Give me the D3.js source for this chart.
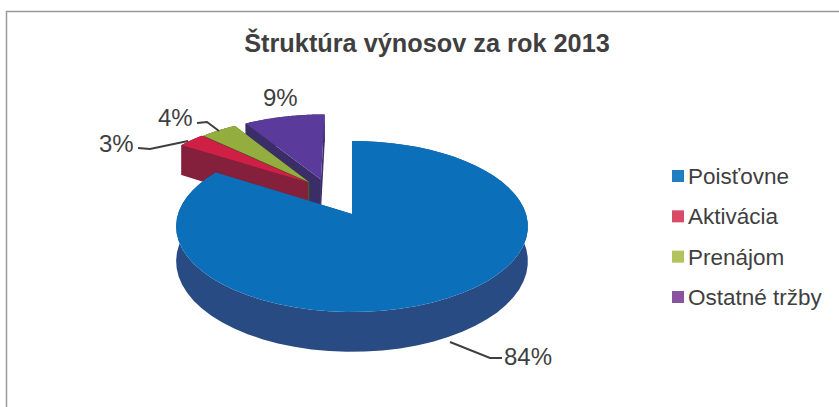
<!DOCTYPE html>
<html>
<head>
<meta charset="utf-8">
<script src="https://cdn.jsdelivr.net/npm/d3@7"></script>
<style>
  html, body { margin: 0; padding: 0; background: #fff; }
  text { font-family: "Liberation Sans", Arial, sans-serif; fill: #3f3f3f; }
</style>
</head>
<body>
<script>
const categories = ['Poisťovne', 'Aktivácia', 'Prenájom', 'Ostatné tržby'];
const values = [84, 3, 4, 9];
const labels = ['84%', '3%', '4%', '9%'];

const w = 839;
const h = 407;

const topColors = ['#0b70b9', '#cf1f45', '#93ae3f', '#5a3b9b'];
const sideColors = ['#274b82', '#84203c', '#3f5c2a', '#3a2d68'];
const legendColors = ['#1f7fc0', '#d84a68', '#b2c25c', '#8a53a0'];

// perspective of the disc plane, radius 1 = rim of the pie
const cx = 352, cy = 214;
const a = 83.7, b = 174, k = 0.146, depth = 34;
const project = (x, y, z) => {
  const s = 1 / (1 - k * y);
  return [cx + b * x * s, cy + a * y * s + z * depth * s];
};

// the small slices sit together behind the pulled out blue one
const shift = [[0, 0], [-0.27, -0.4], [-0.26, -0.4], [-0.19, -0.44]];

const svg = d3.select('body').append('svg').attr('width', w).attr('height', h).style('display', 'block');

svg.append('path').attr('d', 'M6.5,407V11.5H839').attr('fill', 'none').attr('stroke', '#9a9a9a').attr('stroke-width', 1.5);

svg.append('text').text('Štruktúra výnosov za rok 2013')
   .attr('x', 427).attr('y', 52).attr('text-anchor', 'middle')
   .style('font-size', '25.3px').style('font-weight', 'bold');

const pie = d3.pie().sort(null);
const slices = pie(values);
const line = d3.line();

const rim = (d, i, z) => d3.range(0, 61).map((t) => {
  const ang = d.startAngle + (d.endAngle - d.startAngle) * t / 60;
  return project(shift[i][0] + Math.sin(ang), shift[i][1] - Math.cos(ang), z);
});
const tip = (i, z) => project(shift[i][0], shift[i][1], z);

// back slices first, blue one last
[3, 2, 1, 0].forEach((i) => {
  const d = slices[i];
  const g = svg.append('g');
  const top = rim(d, i, 0);
  const low = rim(d, i, 1);
  g.append('path').attr('d', line(top.concat(low.slice().reverse())) + 'Z').attr('fill', sideColors[i]);
  g.append('path').attr('d', line([tip(i, 0), top[0], low[0], tip(i, 1)]) + 'Z').attr('fill', sideColors[i]);
  g.append('path').attr('d', line([tip(i, 0), top[60], low[60], tip(i, 1)]) + 'Z').attr('fill', sideColors[i]);
  g.append('path').attr('d', line([tip(i, 0)].concat(top)) + 'Z').attr('fill', topColors[i]);
});

// leader lines
const leaders = [
  [[450, 342], [490, 358], [502, 358]],
  [[138, 148], [150, 149], [188, 141]],
  [[197, 123], [207, 122], [219, 131]]
];
leaders.forEach((p) => {
  svg.append('path').attr('d', line(p)).attr('fill', 'none').attr('stroke', '#3f3f3f').attr('stroke-width', 2);
});

const labelPos = [[504, 365], [99, 152], [158, 126], [263, 106]];
labels.forEach((t, i) => {
  svg.append('text').text(t).attr('x', labelPos[i][0]).attr('y', labelPos[i][1]).style('font-size', '24px');
});

// legend
const legendY = d3.scalePoint().domain(categories).range([176, 297]);
const legend = svg.selectAll('.legend').data(categories).enter().append('g')
   .attr('class', 'legend')
   .attr('transform', (d) => 'translate(672,' + legendY(d) + ')');
legend.append('rect').attr('x', 0).attr('y', -6).attr('width', 12).attr('height', 12)
   .attr('fill', (d, i) => legendColors[i]);
legend.append('text').text((d) => d).attr('x', 16).attr('y', 8).style('font-size', '22.5px');
</script>
</body>
</html>
